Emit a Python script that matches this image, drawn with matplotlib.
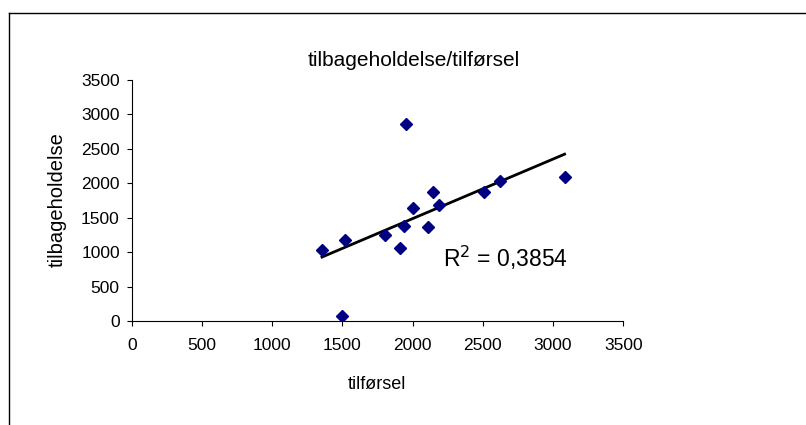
import numpy as np
import matplotlib
matplotlib.use("Agg")
import matplotlib.pyplot as plt
from matplotlib.lines import Line2D

plt.rcParams['font.family'] = ['Liberation Sans', 'DejaVu Sans']

# data
tilfoersel = [1355, 1516, 1495, 1803, 1910, 1941, 1953, 2000, 2107, 2147, 2186, 2510, 2622, 3082]
tilbageholdelse = [1026, 1171, 73, 1244, 1055, 1379, 2860, 1641, 1360, 1873, 1679, 1873, 2038, 2086]
x_ticks = [0, 500, 1000, 1500, 2000, 2500, 3000, 3500]
y_ticks = [0, 500, 1000, 1500, 2000, 2500, 3000, 3500]
title_text = "tilbageholdelse/tilførsel"
xlabel_text = "tilførsel"
ylabel_text = "tilbageholdelse"
r2_text = "R$^2$ = 0,3854"

W, H = 806, 425
fig = plt.figure(figsize=(W / 100, H / 100), dpi=100)
ax = fig.add_axes([131.7 / W, 1 - 321 / H, 491.6 / W, 241 / H])

x = np.array(tilfoersel, dtype=float)
y = np.array(tilbageholdelse, dtype=float)
ax.plot(x, y, linestyle='none', marker='D', markersize=5.8,
        markerfacecolor='#000080', markeredgecolor='#000080', zorder=3)

# linear trendline
k, m = np.polyfit(x, y, 1)
xs = np.array([x.min(), x.max()])
ax.plot(xs, k * xs + m, color='black', linewidth=2.0, zorder=2)

ax.set_xlim(0, 3500)
ax.set_ylim(0, 3500)
ax.set_xticks(x_ticks)
ax.set_yticks(y_ticks)
ax.set_xticklabels([str(v) for v in x_ticks])
ax.set_yticklabels([str(v) for v in y_ticks])
for s in ['top', 'right']:
    ax.spines[s].set_visible(False)
for s in ['left', 'bottom']:
    ax.spines[s].set_linewidth(0.8)
    ax.spines[s].set_color('black')
ax.tick_params(axis='both', direction='out', length=3.6, width=0.8,
               labelsize=12.5, colors='black')
ax.tick_params(axis='x', pad=9)
ax.tick_params(axis='y', pad=5)

ax.text(0.633, 0.224, r2_text, transform=ax.transAxes, fontsize=16.5,
        ha='left', va='baseline')

fig.text(414 / W, 1 - 66 / H, title_text, fontsize=15, ha='center', va='baseline')
fig.text(377 / W, 1 - 389 / H, xlabel_text, fontsize=13, ha='center', va='baseline')
fig.text(57 / W, 1 - 200 / H, ylabel_text, fontsize=14.5, ha='center', va='center',
         rotation=90)

# chart border (cropped on right and bottom)
bx, by = 8.5 / W, 1 - 12.5 / H
fig.add_artist(Line2D([bx, bx], [0, by], transform=fig.transFigure, color='black', linewidth=1.0))
fig.add_artist(Line2D([bx, 1], [by, by], transform=fig.transFigure, color='black', linewidth=1.0))

fig.savefig("out.png", dpi=100)
